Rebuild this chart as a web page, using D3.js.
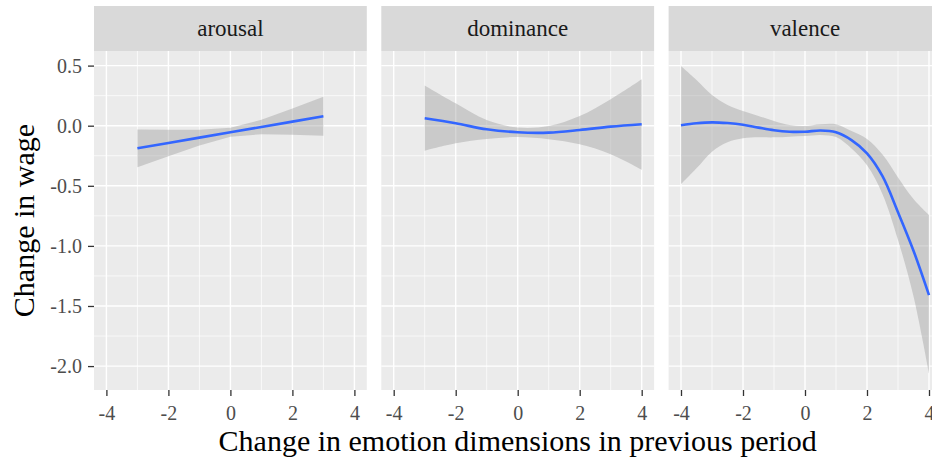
<!DOCTYPE html>
<html lang="en">

<head>
  <meta charset="UTF-8">
  <title>Change in wage by emotion dimension</title>
  <style>
    body { margin: 0; background: #fff; }
    text { font-family: "Liberation Serif", "DejaVu Serif", serif; }
  </style>
</head>

<body>

  <script src="https://d3js.org/d3.v7.min.js"></script>

  <script>

    // facets en ticks
    const facets = ["arousal", "dominance", "valence"];
    const xTicks = [-4, -2, 0, 2, 4];
    const xMinor = [-3, -1, 1, 3];
    const yTicks = [0.5, 0, -0.5, -1, -1.5, -2];
    const yMinor = [0.25, -0.25, -0.75, -1.25, -1.75];

    // arousal (lineair)
    const arousalX = [-3, -2, -1, 0, 1, 2, 3];
    const arousalFit = [-0.188, -0.144, -0.099, -0.055, -0.011, 0.034, 0.078];
    const arousalHi = [-0.031, -0.034, -0.033, -0.018, 0.049, 0.144, 0.240];
    const arousalLo = [-0.345, -0.254, -0.165, -0.092, -0.071, -0.076, -0.084];

    // dominance
    const dominanceX = [-3, -2, -1, 0, 1, 2, 3, 4];
    const dominanceFit = [0.062, 0.020, -0.030, -0.055, -0.058, -0.036, -0.008, 0.012];
    const dominanceHi = [0.335, 0.186, 0.047, -0.015, -0.003, 0.080, 0.220, 0.386];
    const dominanceLo = [-0.209, -0.147, -0.111, -0.095, -0.113, -0.155, -0.237, -0.366];

    // valence
    const valenceX = [-4, -3.5, -3, -2.5, -2, -1.5, -1, -0.5, 0, 0.5, 1, 1.5, 2, 2.5, 3, 3.5, 4];
    const valenceFit = [0.003, 0.020, 0.028, 0.022, 0.008, -0.016, -0.038, -0.050, -0.050, -0.040, -0.055, -0.120, -0.230, -0.420, -0.720, -1.040, -1.410];
    const valenceHi = [0.497, 0.380, 0.255, 0.172, 0.122, 0.081, 0.039, 0.006, -0.002, 0.012, 0.012, -0.045, -0.110, -0.240, -0.430, -0.610, -0.743];
    const valenceLo = [-0.488, -0.355, -0.216, -0.138, -0.105, -0.097, -0.097, -0.091, -0.086, -0.077, -0.095, -0.190, -0.330, -0.570, -0.950, -1.420, -2.060];

    const series = {
      arousal: { x: arousalX, fit: arousalFit, hi: arousalHi, lo: arousalLo, curve: d3.curveLinear },
      dominance: { x: dominanceX, fit: dominanceFit, hi: dominanceHi, lo: dominanceLo, curve: d3.curveCatmullRom },
      valence: { x: valenceX, fit: valenceFit, hi: valenceHi, lo: valenceLo, curve: d3.curveCatmullRom }
    };

    // afmetingen
    const svgWidth = 932,
      svgHeight = 463,
      plotLeft = 94,
      plotTop = 51,
      plotBottom = 390,
      stripTop = 6,
      panelW = 272.8,
      panelGap = 14.5;

    const yScale = d3.scaleLinear()
      .domain([-2.199, 0.6215])
      .range([plotBottom, plotTop]);

    const svg = d3.select('body')
      .append('svg')
      .attr('width', svgWidth)
      .attr('height', svgHeight);

    facets.forEach((name, i) => {
      const x0 = plotLeft + i * (panelW + panelGap);
      const xScale = d3.scaleLinear()
        .domain([-4.4, 4.4])
        .range([x0, x0 + panelW]);

      const g = svg.append('g');

      // strip
      g.append('rect')
        .attr('x', x0).attr('y', stripTop)
        .attr('width', panelW).attr('height', plotTop - stripTop)
        .attr('fill', '#D9D9D9');
      g.append('text')
        .attr('x', x0 + panelW / 2)
        .attr('y', 36)
        .attr('text-anchor', 'middle')
        .attr('fill', '#1A1A1A')
        .style('font-size', '23px')
        .text(name);

      // paneel en rasterlijnen
      g.append('rect')
        .attr('x', x0).attr('y', plotTop)
        .attr('width', panelW).attr('height', plotBottom - plotTop)
        .attr('fill', '#EBEBEB');

      g.selectAll('.ymin').data(yMinor).enter().append('line')
        .attr('x1', x0).attr('x2', x0 + panelW)
        .attr('y1', d => yScale(d)).attr('y2', d => yScale(d))
        .attr('stroke', '#fff').attr('stroke-width', 0.7);
      g.selectAll('.xmin').data(xMinor).enter().append('line')
        .attr('x1', d => xScale(d)).attr('x2', d => xScale(d))
        .attr('y1', plotTop).attr('y2', plotBottom)
        .attr('stroke', '#fff').attr('stroke-width', 0.7);
      g.selectAll('.ymaj').data(yTicks).enter().append('line')
        .attr('x1', x0).attr('x2', x0 + panelW)
        .attr('y1', d => yScale(d)).attr('y2', d => yScale(d))
        .attr('stroke', '#fff').attr('stroke-width', 1.4);
      g.selectAll('.xmaj').data(xTicks).enter().append('line')
        .attr('x1', d => xScale(d)).attr('x2', d => xScale(d))
        .attr('y1', plotTop).attr('y2', plotBottom)
        .attr('stroke', '#fff').attr('stroke-width', 1.4);

      // smoother met betrouwbaarheidsband
      const s = series[name];
      const pts = s.x.map((x, j) => ({ x: x, fit: s.fit[j], hi: s.hi[j], lo: s.lo[j] }));

      g.append('clipPath').attr('id', 'clip' + i)
        .append('rect')
        .attr('x', x0).attr('y', plotTop)
        .attr('width', panelW).attr('height', plotBottom - plotTop);

      const content = g.append('g').attr('clip-path', `url(#clip${i})`);

      content.append('path')
        .datum(pts)
        .attr('d', d3.area()
          .x(d => xScale(d.x))
          .y0(d => yScale(d.lo))
          .y1(d => yScale(d.hi))
          .curve(s.curve))
        .attr('fill', '#999999')
        .attr('fill-opacity', 0.4);

      content.append('path')
        .datum(pts)
        .attr('d', d3.line()
          .x(d => xScale(d.x))
          .y(d => yScale(d.fit))
          .curve(s.curve))
        .attr('fill', 'none')
        .attr('stroke', '#3366FF')
        .attr('stroke-width', 2.6);

      // x-as
      const xAxis = g.append('g')
        .attr('transform', `translate(0,${plotBottom})`)
        .call(d3.axisBottom(xScale).tickValues(xTicks).tickSize(6).tickPadding(10).tickFormat(d => String(d)));
      xAxis.select('.domain').remove();
      xAxis.selectAll('line').attr('stroke', '#333333').attr('stroke-width', 1.3);
      xAxis.selectAll('text').attr('fill', '#4D4D4D').attr('font-family', null).attr('font-size', null).style('font-size', '20px');

      // y-as alleen links
      if (i === 0) {
        const yAxis = g.append('g')
          .attr('transform', `translate(${x0},0)`)
          .call(d3.axisLeft(yScale).tickValues(yTicks).tickSize(6).tickPadding(6).tickFormat(d => d.toFixed(1)));
        yAxis.select('.domain').remove();
        yAxis.selectAll('line').attr('stroke', '#333333').attr('stroke-width', 1.3);
        yAxis.selectAll('text').attr('fill', '#4D4D4D').attr('font-family', null).attr('font-size', null).style('font-size', '20px');
      }
    });

    // as-titels
    svg.append('text')
      .attr('x', plotLeft + (3 * panelW + 2 * panelGap) / 2)
      .attr('y', 451)
      .attr('text-anchor', 'middle')
      .attr('fill', '#000')
      .style('font-size', '30px')
      .text('Change in emotion dimensions in previous period');

    svg.append('text')
      .attr('transform', `translate(34,${(plotTop + plotBottom) / 2}) rotate(-90)`)
      .attr('text-anchor', 'middle')
      .attr('fill', '#000')
      .style('font-size', '30px')
      .text('Change in wage');

  </script>

</body>

</html>
